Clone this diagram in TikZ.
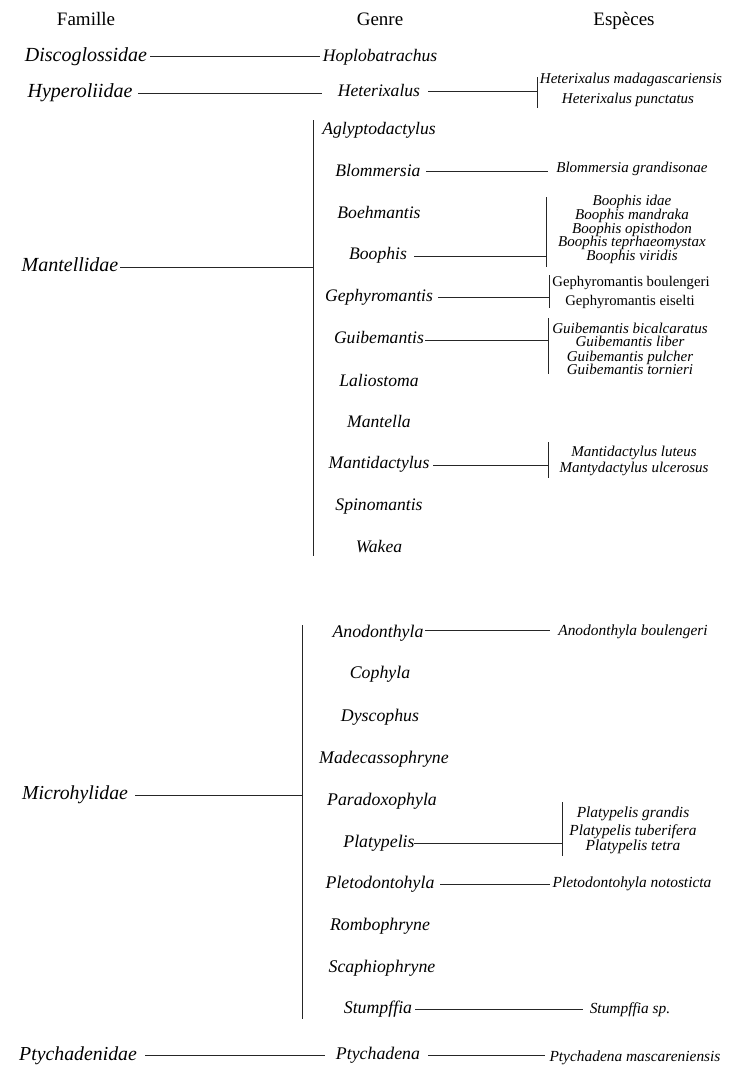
\documentclass[tikz,border=0pt]{standalone}
\usepackage{fontspec}
\setmainfont{Liberation Serif}
\begin{document}
\begin{tikzpicture}[x=1pt,y=-1pt,
  every node/.style={inner sep=0pt,anchor=base},
  hdr/.style={font=\fontsize{19}{19}\selectfont},
  fam/.style={font=\fontsize{20}{20}\selectfont\itshape},
  gen/.style={font=\fontsize{17.6}{17.6}\selectfont\itshape},
  spi/.style={font=\fontsize{15}{15}\selectfont\itshape},
  spr/.style={font=\fontsize{14.7}{14.7}\selectfont},
  cfam/.style={font=\fontsize{19.8}{19.8}\selectfont\itshape},
  cgen/.style={font=\fontsize{17.8}{17.8}\selectfont\itshape},
  csp/.style={font=\fontsize{15.4}{15.4}\selectfont\itshape},
  ln/.style={draw=black!85,line width=0.9pt}]
\useasboundingbox (0,0) rectangle (750,1069);
% headers
\node[hdr] (hfam) at (86,25) {Famille};
\node[hdr] (hgen) at (380,25) {Genre};
\node[hdr] (hesp) at (624,25) {Espèces};
% Discoglossidae
\node[fam] (disco) at (86,61.5) {Discoglossidae};
\node[gen] (hoplo) at (380,61) {Hoplobatrachus};
\draw[ln] (150,56) -- (320,56);
% Hyperoliidae
\node[fam] (hyper) at (80,97) {Hyperoliidae};
\node[gen] (hetx) at (379,96) {Heterixalus};
\draw[ln] (138,93) -- (322,93);
\draw[ln] (428,91) -- (537,91);
\draw[ln] (537,77) -- (537,108);
\node[spi] (hx1) at (631,83) {Heterixalus madagascariensis};
\node[spi] (hx2) at (628,103) {Heterixalus punctatus};
% Mantellidae
\draw[ln] (313,120) -- (313,556);
\node[fam] (mant) at (70,271) {Mantellidae};
\draw[ln] (120,267) -- (313,267);
\node[gen] (g1) at (379,134) {Aglyptodactylus};
\node[gen] (g2) at (378,176) {Blommersia};
\node[gen] (g3) at (379,218) {Boehmantis};
\node[gen] (g4) at (378,259) {Boophis};
\node[gen] (g5) at (379,301) {Gephyromantis};
\node[gen] (g6) at (379,343) {Guibemantis};
\node[gen] (g7) at (379,386) {Laliostoma};
\node[gen] (g8) at (379,427) {Mantella};
\node[gen] (g9) at (379,468) {Mantidactylus};
\node[gen] (g10) at (379,510) {Spinomantis};
\node[gen] (g11) at (379,552) {Wakea};
% Blommersia
\node[spi] (bl1) at (632,172) {Blommersia grandisonae};
\draw[ln] (426,171.5) -- (548,171.5);
% Boophis
\draw[ln] (414,256) -- (546,256);
\draw[ln] (546,197) -- (546,267);
\node[spi] (bo1) at (632,205) {Boophis idae};
\node[spi] (bo2) at (632,219) {Boophis mandraka};
\node[spi] (bo3) at (632,233) {Boophis opisthodon};
\node[spi] (bo4) at (632,246) {Boophis teprhaeomystax};
\node[spi] (bo5) at (632,260) {Boophis viridis};
% Gephyromantis
\draw[ln] (438,297) -- (549,297);
\draw[ln] (549,275) -- (549,308);
\node[spr] (ge1) at (631,286) {Gephyromantis boulengeri};
\node[spr] (ge2) at (630,305) {Gephyromantis eiselti};
% Guibemantis
\draw[ln] (425,340.5) -- (548,340.5);
\draw[ln] (548,318) -- (548,374);
\node[spi] (gu1) at (630,333) {Guibemantis bicalcaratus};
\node[spi] (gu2) at (630,346) {Guibemantis liber};
\node[spi] (gu3) at (630,361) {Guibemantis pulcher};
\node[spi] (gu4) at (630,374) {Guibemantis tornieri};
% Mantidactylus
\draw[ln] (433,465) -- (548,465);
\draw[ln] (548,442) -- (548,478);
\node[spi] (md1) at (634,456) {Mantidactylus luteus};
\node[spi] (md2) at (634,472) {Mantydactylus ulcerosus};
% Microhylidae
\draw[ln] (302.5,625) -- (302.5,1019);
\node[cfam] (micro) at (75,799) {Microhylidae};
\draw[ln] (135,795) -- (302.5,795);
\node[cgen] (m1) at (378,637) {Anodonthyla};
\node[cgen] (m2) at (380,678) {Cophyla};
\node[cgen] (m3) at (380,721) {Dyscophus};
\node[cgen] (m4) at (384,763) {Madecassophryne};
\node[cgen] (m5) at (382,805) {Paradoxophyla};
\node[cgen] (m6) at (379,847) {Platypelis};
\node[cgen] (m7) at (380,888) {Pletodontohyla};
\node[cgen] (m8) at (380,930) {Rombophryne};
\node[cgen] (m9) at (382,972) {Scaphiophryne};
\node[cgen] (m10) at (378,1013) {Stumpffia};
\draw[ln] (425,630.5) -- (550,630.5);
\node[csp] (an1) at (633,635) {Anodonthyla boulengeri};
\draw[ln] (414,843) -- (562,843);
\draw[ln] (562,802) -- (562,856);
\node[csp] (pl1) at (633,817) {Platypelis grandis};
\node[csp] (pl2) at (633,835) {Platypelis tuberifera};
\node[csp] (pl3) at (633,850) {Platypelis tetra};
\draw[ln] (440,884) -- (550,884);
\node[csp] (pd1) at (632,887) {Pletodontohyla notosticta};
\draw[ln] (415,1009) -- (583,1009);
\node[csp] (st1) at (630,1013) {Stumpffia sp.};
% Ptychadenidae
\node[cfam] (ptyf) at (78,1060) {Ptychadenidae};
\node[cgen] (ptyg) at (378,1059) {Ptychadena};
\draw[ln] (145,1055.5) -- (325,1055.5);
\draw[ln] (428,1055.5) -- (545,1055.5);
\node[csp] (pty1) at (635,1061) {Ptychadena mascareniensis};
\end{tikzpicture}
\end{document}
